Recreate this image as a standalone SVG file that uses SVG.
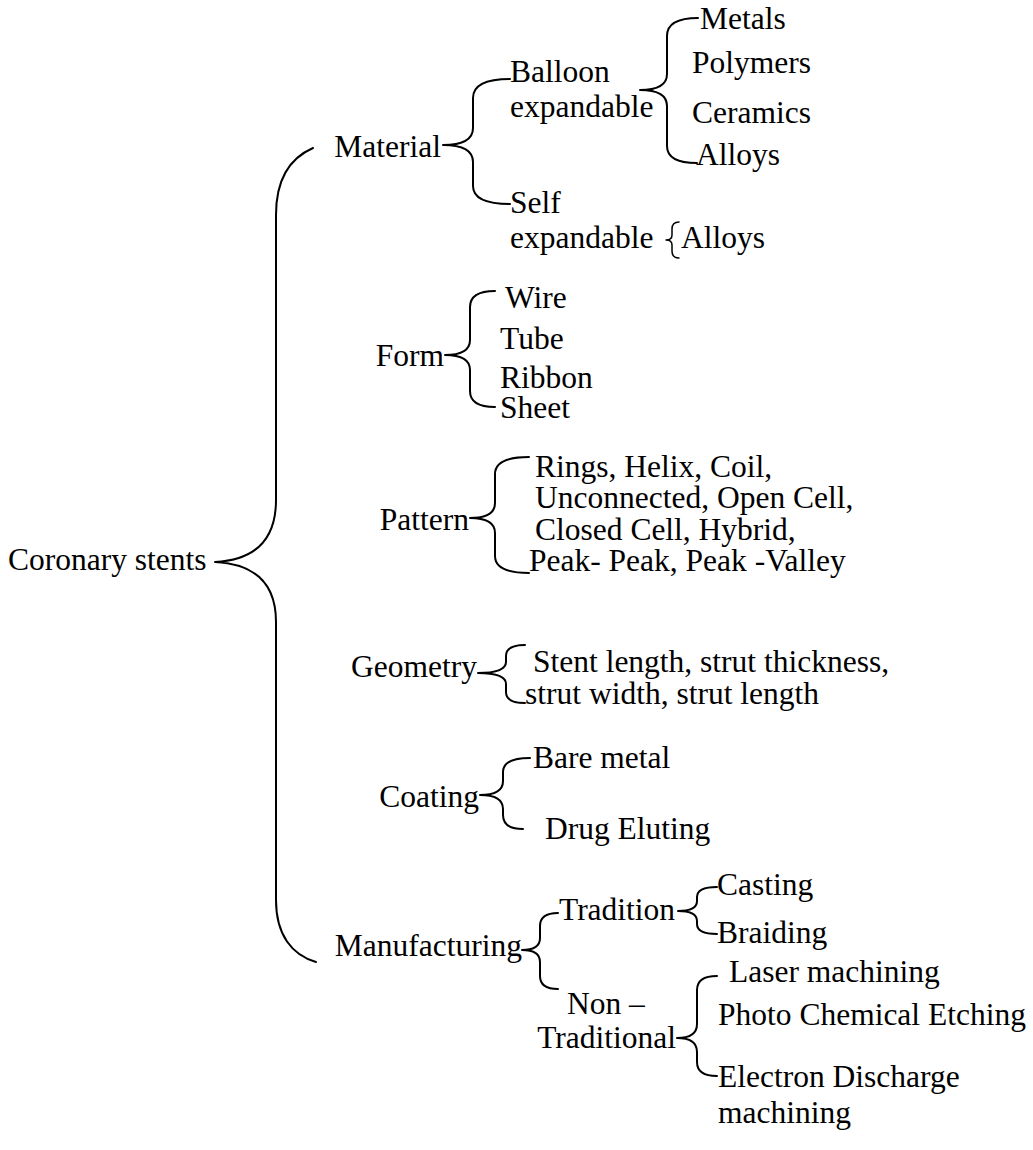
<svg xmlns="http://www.w3.org/2000/svg" width="1033" height="1150" viewBox="0 0 1033 1150">
<style>
text{font-family:"Liberation Serif","Times New Roman",Tinos,"DejaVu Serif",serif;font-size:31.5px;fill:#000}
.e{text-anchor:end}
.b{fill:none;stroke:#000;stroke-width:2;stroke-linecap:round;stroke-linejoin:round}
.s{stroke-width:1.5}
</style>
<rect width="1033" height="1150" fill="#fff"/>
<g id="connectors">
<path class="b" d="M313,148 C290,158 276,180 276,215 L276,500 C276,540 255,560 215,562 C255,564 276,584 276,622 L276,900 C276,935 292,955 316,962"/>
<path class="b" d="M510,79 Q473,79 473,98 L473,128 Q473,145 443,145 Q473,145 473,162 L473,186 Q473,204 510,204"/>
<path class="b" d="M698,18 Q667,18 667,36 L667,74 Q667,90 640,90 Q667,90 667,106 L667,146 Q667,163 697,163"/>
<path class="b s" d="M679,222 Q672,222 672,229 L672,235 Q672,240 666,240 Q672,240 672,245 L672,251 Q672,258 679,258"/>
<path class="b" d="M495,291 Q470,291 470,307 L470,340 Q470,355 445,355 Q470,355 470,370 L470,391 Q470,407 495,407"/>
<path class="b" d="M529,457 Q495,457 495,474 L495,503 Q495,518 470,518 Q495,518 495,533 L495,556 Q495,573 529,573"/>
<path class="b" d="M525,645 Q506,645 506,656 L506,662 Q506,673 478,673 Q506,673 506,684 L506,692 Q506,703 525,703"/>
<path class="b" d="M530,758 Q503,758 503,772 L503,781 Q503,795 480,795 Q503,795 503,809 L503,815 Q503,829 523,829"/>
<path class="b" d="M558,913 Q540,913 540,926 L540,938 Q540,950 522,950 Q540,950 540,962 L540,976 Q540,989 558,989"/>
<path class="b" d="M717,887 Q697,887 697,897 L697,901 Q697,911 678,911 Q697,911 697,921 L697,924 Q697,934 717,934"/>
<path class="b" d="M717,976 Q697,976 697,990 L697,1024 Q697,1038 677,1038 Q697,1038 697,1052 L697,1062 Q697,1076 717,1076"/>
</g>
<g id="root"><text x="8" y="570">Coronary stents</text></g>
<g id="material"><text class="e" x="441" y="157">Material</text></g>
<g id="balloon"><text x="510" y="82">Balloon</text><text x="510" y="117">expandable</text></g>
<g id="self"><text x="510" y="213">Self</text><text x="510" y="248">expandable</text></g>
<g id="metals"><text x="700" y="29">Metals</text></g>
<g id="polymers"><text x="692" y="73">Polymers</text></g>
<g id="ceramics"><text x="692" y="123">Ceramics</text></g>
<g id="alloys1"><text x="696" y="165">Alloys</text></g>
<g id="alloys2"><text x="681" y="248">Alloys</text></g>
<g id="form"><text class="e" x="444" y="366">Form</text></g>
<g id="wire"><text x="505" y="308">Wire</text></g>
<g id="tube"><text x="500" y="349">Tube</text></g>
<g id="ribbon"><text x="500" y="388">Ribbon</text></g>
<g id="sheet"><text x="500" y="418">Sheet</text></g>
<g id="pattern"><text class="e" x="469" y="530">Pattern</text></g>
<g id="pattern-items"><text x="535" y="477">Rings, Helix, Coil,</text><text x="535" y="508">Unconnected, Open Cell,</text><text x="535" y="540">Closed Cell, Hybrid,</text><text x="529" y="571">Peak- Peak, Peak -Valley</text></g>
<g id="geometry"><text class="e" x="477" y="677">Geometry</text></g>
<g id="geometry-items"><text x="533" y="672">Stent length, strut thickness,</text><text x="525" y="704">strut width, strut length</text></g>
<g id="coating"><text class="e" x="479" y="807">Coating</text></g>
<g id="bare"><text x="533" y="768">Bare metal</text></g>
<g id="drug"><text x="545" y="839">Drug Eluting</text></g>
<g id="manufacturing"><text class="e" x="522" y="956">Manufacturing</text></g>
<g id="tradition"><text x="559" y="920">Tradition</text></g>
<g id="casting"><text x="717" y="895">Casting</text></g>
<g id="braiding"><text x="717" y="943">Braiding</text></g>
<g id="nontraditional"><text x="567" y="1014">Non –</text><text class="e" x="676" y="1048">Traditional</text></g>
<g id="laser"><text x="729" y="982">Laser machining</text></g>
<g id="photo"><text x="718" y="1025">Photo Chemical Etching</text></g>
<g id="edm"><text x="718" y="1087">Electron Discharge</text><text x="718" y="1123">machining</text></g>
</svg>
